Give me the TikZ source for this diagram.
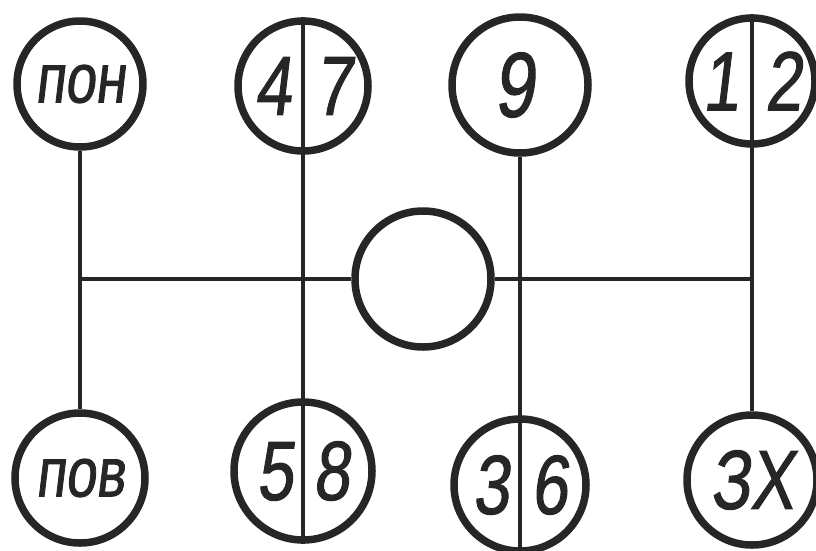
\documentclass[tikz,border=0pt]{standalone}
\usepackage{fontspec}
\newfontfamily\hand[FakeStretch=0.78,FakeSlant=0.12,FakeBold=1.2]{Liberation Sans}
\definecolor{ink}{HTML}{262626}
\tikzset{
  ring/.style={draw=ink, line width=7.5pt, circle, inner sep=0pt, minimum size=#1, text=ink,
    font=\hand\fontsize{84}{84}\selectfont},
  ring/.default=130pt,
  wordring/.style={ring=#1, font=\hand\fontsize{70}{70}\selectfont},
  wordring/.default=130pt,
  wire/.style={draw=ink, line width=4pt}
}
\begin{document}
\begin{tikzpicture}[x=1pt,y=-1pt]
\useasboundingbox (0,0) rectangle (816,550);
% top row
\node[wordring=126pt] (pon) at (80,84) {пон};
\node[ring] (n47) at (303,86) {4\hspace{24pt}7};
\node[ring=136pt] (n9) at (520,85) {\hspace{-12pt}\fontsize{92}{92}\selectfont 9};
\node[ring=126pt] (n12) at (752,81) {1\hspace{26pt}2};
% centre
\node[ring=136pt] (c) at (423,279) {};
% bottom row
\node[wordring=130pt] (pov) at (80,478) {пов};
\node[ring=138pt] (n58) at (303,471) {5\hspace{20pt}8};
\node[ring=132pt] (n36) at (520,485) {3\hspace{22pt}6};
\node[ring=130pt] (n3x) at (752,480) {ЗХ};
% junction points on the horizontal bar
\coordinate (L) at (pon.south |- c.center);
\coordinate (R) at (n12.south |- c.center);
% connectors
\draw[wire] (pon.south) -- (pov.north);
\draw[wire] (n47.north) -- (n58.south);
\draw[wire] (n9.south) -- (n36.south);
\draw[wire] (n12.north) -- (n3x.north);
\draw[wire] (L) -- (c.west);
\draw[wire] (c.east) -- (R);
\end{tikzpicture}
\end{document}
